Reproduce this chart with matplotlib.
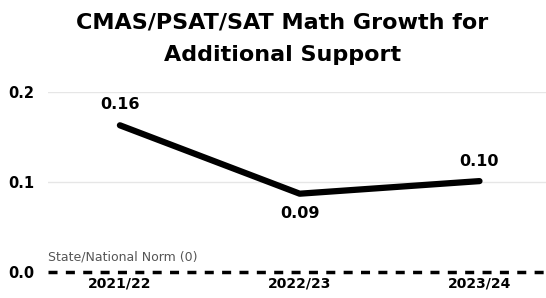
import matplotlib
matplotlib.use("Agg")
import matplotlib.pyplot as plt

years = ["2021/22", "2022/23", "2023/24"]
growth = [0.163, 0.087, 0.101]
labels = ["0.16", "0.09", "0.10"]
yticks = [0.0, 0.1, 0.2]
norm = 0.0

fig = plt.figure(figsize=(5.46, 2.98), dpi=100)
ax = fig.add_axes([48/546, (298-272)/298, 1 - 48/546, (272-92)/298])
x = list(range(len(years)))
ax.set_xlim(-0.4, 2.37)
ax.set_ylim(0, 0.2)
for t in [0.1, 0.2]:
    ax.axhline(t, color="#e6e6e6", lw=1, zorder=0)
ax.axhline(norm, color="black", lw=2.5, ls=(0, (2.6, 2.4)), clip_on=False)
ax.text(-0.4, 0.01, "State/National Norm (0)", color="#555555", fontsize=9, ha="left", va="bottom")
ax.plot(x, growth, color="black", lw=4.5, solid_capstyle="round", solid_joinstyle="round", clip_on=False)
offs = [(0, 15), (0, -14), (0, 14)]
for xi, yi, lab, off in zip(x, growth, labels, offs):
    ax.annotate(lab, (xi, yi), xytext=off, textcoords="offset points", ha="center", va="center",
                fontsize=11.5, fontweight="bold")
ax.set_xticks(x)
ax.set_xticklabels(years, fontsize=10, fontweight="bold")
ax.set_yticks(yticks)
ax.set_yticklabels([f"{v:.1f}" for v in yticks], fontsize=10.5, fontweight="bold")
ax.tick_params(length=0, pad=3)
ax.tick_params(axis="y", pad=10)
for s in ax.spines.values():
    s.set_visible(False)
fig.text(0.517, 0.925, "CMAS/PSAT/SAT Math Growth for", ha="center", va="center", fontsize=16, fontweight="bold")
fig.text(0.517, 0.815, "Additional Support", ha="center", va="center", fontsize=16, fontweight="bold")
fig.savefig("out.png", dpi=100)
